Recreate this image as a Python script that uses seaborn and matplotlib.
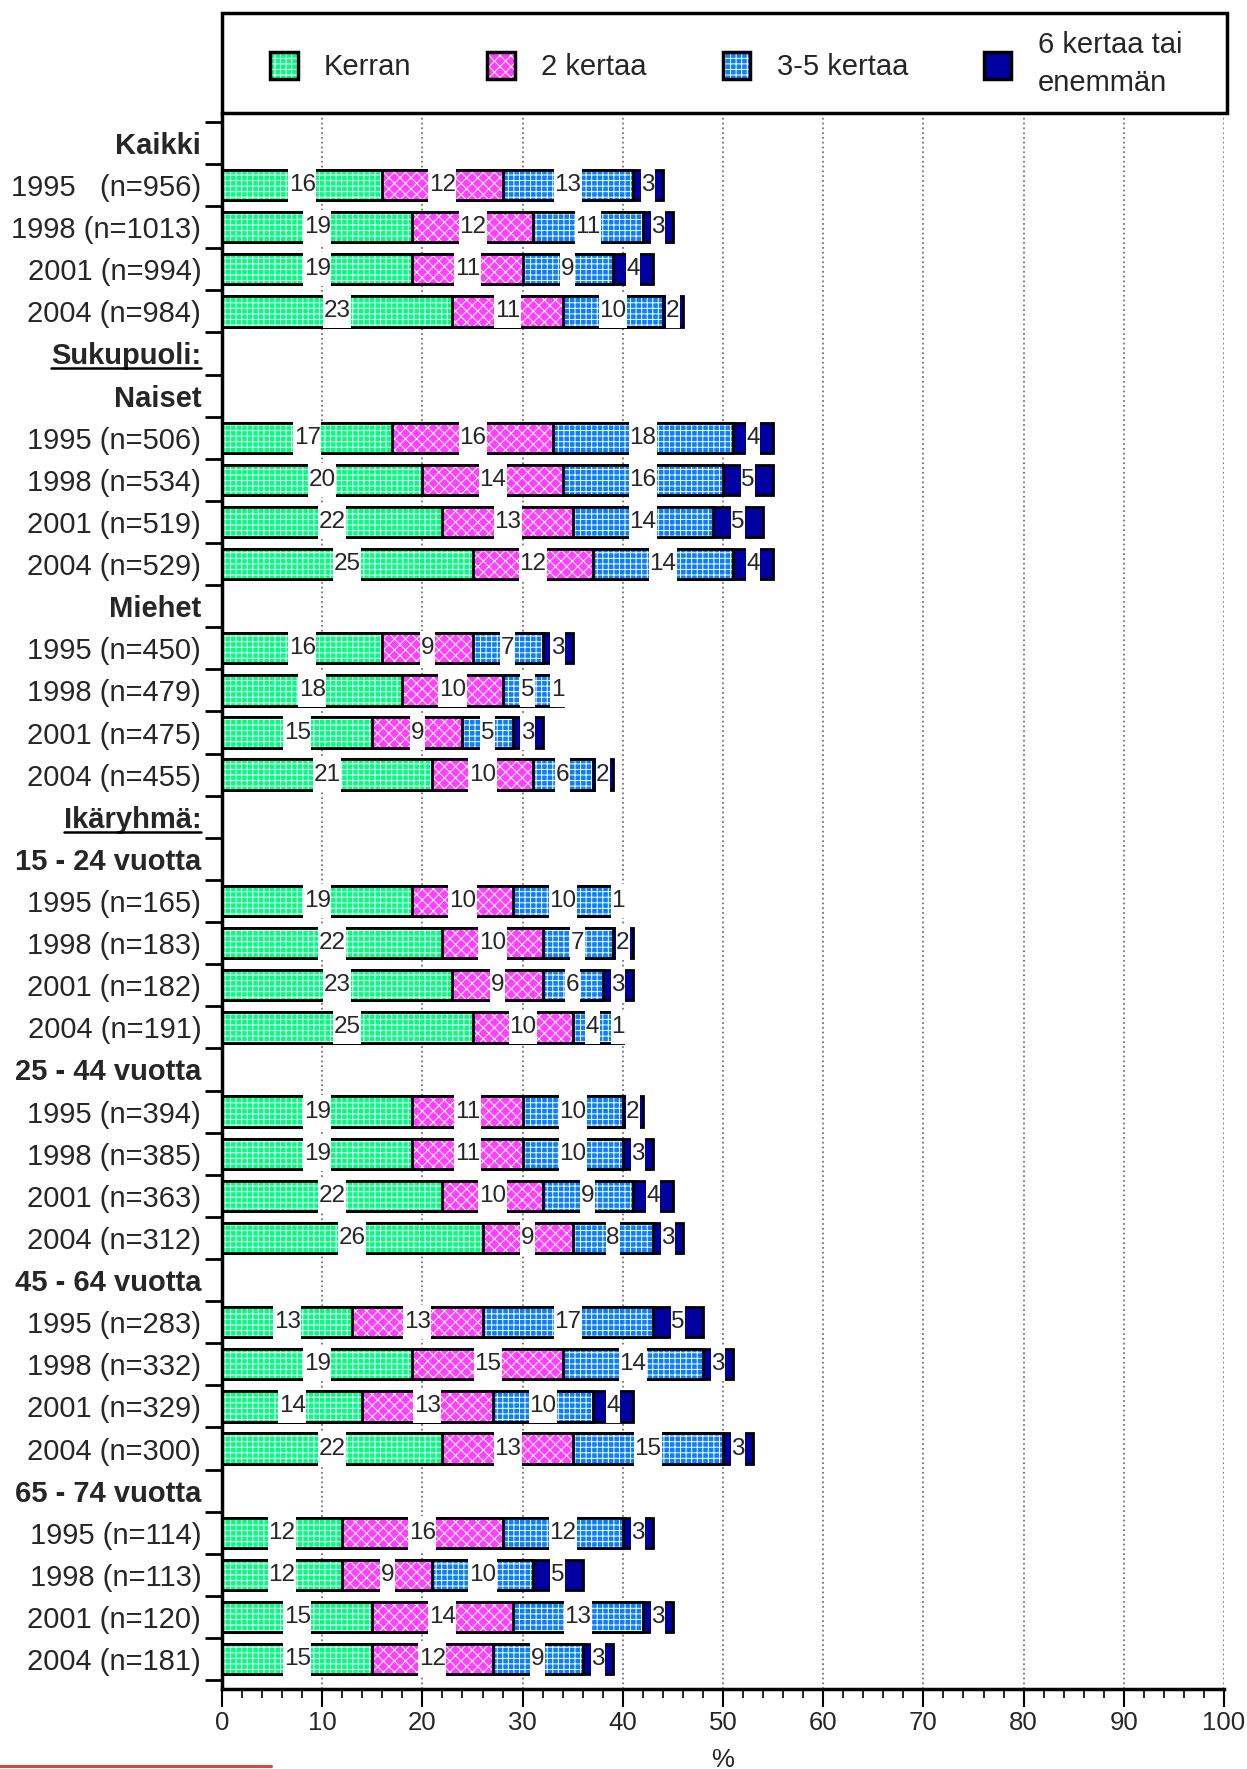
import matplotlib
matplotlib.use("Agg")
import numpy as np
import pandas as pd
import seaborn as sns
from matplotlib import pyplot
from matplotlib.patches import Patch, Rectangle
from matplotlib.lines import Line2D
from matplotlib.path import Path
from matplotlib.ticker import FixedLocator, MultipleLocator
from matplotlib.transforms import IdentityTransform

# row labels, top to bottom
rows = [
    "Kaikki", "1995   (n=956)", "1998 (n=1013)", "2001 (n=994)", "2004 (n=984)",
    "Sukupuoli:", "Naiset", "1995 (n=506)", "1998 (n=534)", "2001 (n=519)", "2004 (n=529)",
    "Miehet", "1995 (n=450)", "1998 (n=479)", "2001 (n=475)", "2004 (n=455)",
    "Ikäryhmä:", "15 - 24 vuotta", "1995 (n=165)", "1998 (n=183)", "2001 (n=182)", "2004 (n=191)",
    "25 - 44 vuotta", "1995 (n=394)", "1998 (n=385)", "2001 (n=363)", "2004 (n=312)",
    "45 - 64 vuotta", "1995 (n=283)", "1998 (n=332)", "2001 (n=329)", "2004 (n=300)",
    "65 - 74 vuotta", "1995 (n=114)", "1998 (n=113)", "2001 (n=120)", "2004 (n=181)",
]
headers = ["Kaikki", "Sukupuoli:", "Naiset", "Miehet", "Ikäryhmä:",
           "15 - 24 vuotta", "25 - 44 vuotta", "45 - 64 vuotta", "65 - 74 vuotta"]
underlined = ["Sukupuoli:", "Ikäryhmä:"]

N = None
kerran = [N, 16, 19, 19, 23, N, N, 17, 20, 22, 25, N, 16, 18, 15, 21, N, N, 19, 22, 23, 25,
          N, 19, 19, 22, 26, N, 13, 19, 14, 22, N, 12, 12, 15, 15]
kaksi = [N, 12, 12, 11, 11, N, N, 16, 14, 13, 12, N, 9, 10, 9, 10, N, N, 10, 10, 9, 10,
         N, 11, 11, 10, 9, N, 13, 15, 13, 13, N, 16, 9, 14, 12]
kolme_viisi = [N, 13, 11, 9, 10, N, N, 18, 16, 14, 14, N, 7, 5, 5, 6, N, N, 10, 7, 6, 4,
               N, 10, 10, 9, 8, N, 17, 14, 10, 15, N, 12, 10, 13, 9]
kuusi = [N, 3, 3, 4, 2, N, N, 4, 5, 5, 4, N, 3, 1, 3, 2, N, N, 1, 2, 3, 1,
         N, 2, 3, 4, 3, N, 5, 3, 4, 3, N, 3, 5, 3, 3]

series = ["Kerran", "2 kertaa", "3-5 kertaa", "6 kertaa tai\nenemmän"]
faces = ["#00FF80", "#FF40FF", "#0A80FF", "#0000A0"]
hatch_cols = ["white", "white", "white", "#0000A0"]
hatches = ["+++", "xxx", "+++", None]

sns.set_style("white")
pyplot.rcParams["font.family"] = ["Liberation Sans", "DejaVu Sans"]
pyplot.rcParams["hatch.linewidth"] = 0.7

df = pd.DataFrame({"row": rows, "s0": kerran, "s1": kaksi, "s2": kolme_viisi, "s3": kuusi})
vals = df[["s0", "s1", "s2", "s3"]].astype(float)
cum = vals.cumsum(axis=1)
for i in range(4):
    df[f"c{i}"] = cum.iloc[:, i]

fig = pyplot.figure(figsize=(12.47, 17.69), dpi=100)
W, H = 1247, 1769
ax = fig.add_axes([222 / W, 1 - 1689 / H, (1224 - 222) / W, (1689 - 113) / H])

# stacked bars: draw cumulative totals back to front
for i in [3, 2, 1, 0]:
    n0 = len(ax.patches)
    sns.barplot(data=df, x=f"c{i}", y="row", order=rows, orient="h",
                color=faces[i], errorbar=None, width=0.72, linewidth=0, ax=ax)
    for p in ax.patches[n0:]:
        p.set_facecolor(faces[i])
        p.set_edgecolor(hatch_cols[i])
        p.set_antialiased(False)
        if hatches[i]:
            p.set_hatch(hatches[i])
    sns.barplot(data=df, x=f"c{i}", y="row", order=rows, orient="h",
                color="black", fill=False, errorbar=None, width=0.72,
                linewidth=2, ax=ax)


def label_box(x0, y0, width, height, mutation_size):
    # narrow horizontally, tall enough to break the bar outline
    cx, cy = x0 + width / 2, y0 + height / 2
    hw, hh = width / 2 + 0.5, 17.0
    verts = [(cx - hw, cy - hh), (cx + hw, cy - hh), (cx + hw, cy + hh),
             (cx - hw, cy + hh), (cx - hw, cy - hh)]
    return Path(verts, closed=True)


# value labels in white boxes
for r in range(len(rows)):
    if pd.isna(vals.iloc[r, 0]):
        continue
    start = 0.0
    for i in range(4):
        v = vals.iloc[r, i]
        ax.text(start + v / 2, r, f"{int(v)}", ha="center", va="center",
                fontsize=17.5, zorder=5,
                bbox=dict(boxstyle=label_box, facecolor="white", edgecolor="none"))
        start += v

ax.set_xlim(0, 100)
ax.set_ylim(len(rows) - 1 + 0.71, -0.71)
ax.set_xticks(range(0, 101, 10))
ax.xaxis.set_minor_locator(MultipleLocator(2))
ax.yaxis.set_minor_locator(FixedLocator(np.arange(-0.5, len(rows), 1)))
ax.set_yticks(range(len(rows)))
ax.set_yticklabels(rows)
ax.set_ylabel("")
ax.set_xlabel("%", fontsize=18.5, labelpad=9)
ax.tick_params(axis="x", which="major", length=13, width=1.5, labelsize=18.5,
               pad=3, color="black", direction="out", bottom=True)
ax.tick_params(axis="x", which="minor", length=6.5, width=1.2, color="black",
               direction="out", bottom=True)
ax.tick_params(axis="y", which="major", length=0, labelsize=21, pad=15)
ax.tick_params(axis="y", which="minor", length=12, width=2, color="black",
               direction="out", left=True)
for lab in ax.get_yticklabels():
    if lab.get_text() in headers:
        lab.set_fontweight("bold")

ax.grid(axis="x", which="major", linestyle=":", color="#777777", linewidth=1.3)
ax.set_axisbelow(True)
for s in ["top", "right"]:
    ax.spines[s].set_visible(False)
for s in ["left", "bottom"]:
    ax.spines[s].set_linewidth(2.5)
    ax.spines[s].set_color("black")

# legend frame
fig.add_artist(Rectangle((222 / W, 1 - 113 / H), (1227 - 222) / W, 100 / H,
                         transform=fig.transFigure, fill=False,
                         edgecolor="black", linewidth=2.5))
handles = []
for i in range(4):
    base = Patch(facecolor=faces[i], edgecolor=hatch_cols[i], hatch=hatches[i],
                 linewidth=0, antialiased=False)
    outline = Patch(facecolor="none", edgecolor="black", linewidth=2.5)
    handles.append((base, outline))
leg = fig.legend(handles, series, loc="center left",
                 bbox_to_anchor=(270 / W, 1 - 64 / H), frameon=False, ncol=4,
                 fontsize=21, handlelength=0.95, handleheight=1.05, handletextpad=0.9,
                 columnspacing=2.6, borderpad=0, borderaxespad=0)
leg.get_texts()[3].set_linespacing(1.42)

# underline group titles
fig.canvas.draw()
renderer = fig.canvas.get_renderer()
for r, lab in enumerate(ax.get_yticklabels()):
    if lab.get_text() in underlined:
        bb = lab.get_window_extent(renderer)
        yd = ax.transData.transform((0, r))[1] - 15
        fig.add_artist(Line2D([bb.x0, bb.x1], [yd, yd], transform=IdentityTransform(),
                              color="black", linewidth=1.8))

fig.add_artist(Line2D([0, 271 / W], [1 - 1766 / H, 1 - 1766 / H],
                      transform=fig.transFigure, color="#D94444", linewidth=2.2))

fig.savefig("out.png", dpi=100)
